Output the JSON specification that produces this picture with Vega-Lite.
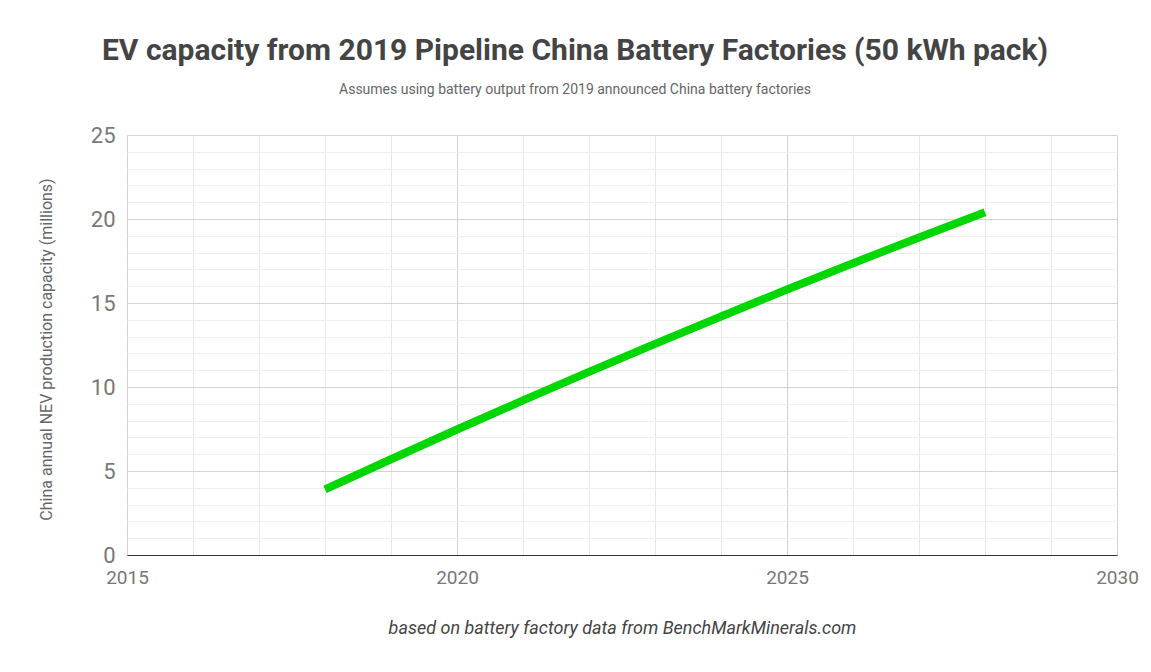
{
  "$schema": "https://vega.github.io/schema/vega-lite/v6.json",
  "width": 990,
  "height": 420,
  "autosize": "none",
  "padding": {"left": 127, "top": 135, "right": 34, "bottom": 117},
  "background": "white",
  "config": {"view": {"stroke": null}, "font": "Roboto"},
  "title": {
    "text": "EV capacity from 2019 Pipeline China Battery Factories (50 kWh pack)",
    "subtitle": "Assumes using battery output from 2019 announced China battery factories",
    "anchor": "middle",
    "dx": -47,
    "font": "Roboto",
    "fontSize": 30,
    "fontWeight": "bold",
    "color": "#444444",
    "subtitleFont": "Roboto",
    "subtitleFontSize": 14,
    "subtitleColor": "#666666",
    "subtitlePadding": 17,
    "offset": 27
  },
  "data": {
    "values": [
      {"year": 2018, "capacity": 3.9},
      {"year": 2019, "capacity": 5.7},
      {"year": 2020, "capacity": 7.47},
      {"year": 2021, "capacity": 9.2},
      {"year": 2022, "capacity": 10.9},
      {"year": 2023, "capacity": 12.57},
      {"year": 2024, "capacity": 14.2},
      {"year": 2025, "capacity": 15.8},
      {"year": 2026, "capacity": 17.37},
      {"year": 2027, "capacity": 18.9},
      {"year": 2028, "capacity": 20.4}
    ]
  },
  "mark": {"type": "line", "color": "#00d600", "strokeWidth": 8, "strokeCap": "butt"},
  "encoding": {
    "x": {
      "field": "year",
      "type": "quantitative",
      "scale": {"domain": [2015, 2030], "nice": false, "zero": false},
      "axis": {
        "values": [2015, 2016, 2017, 2018, 2019, 2020, 2021, 2022, 2023, 2024, 2025, 2026, 2027, 2028, 2029, 2030],
        "format": "d",
        "labelExpr": "datum.value % 5 === 0 ? datum.label : ''",
        "labelFont": "Roboto",
        "labelFontSize": 19,
        "labelColor": "#777777",
        "labelPadding": 13,
        "labelFlush": false,
        "ticks": false,
        "domain": true,
        "domainColor": "#333333",
        "domainWidth": 1,
        "grid": true,
        "gridColor": {"condition": {"test": "datum.value % 5 === 0", "value": "#d2d2d2"}, "value": "#e6e6e6"},
        "gridWidth": 1,
        "title": "based on battery factory data from BenchMarkMinerals.com",
        "titleFont": "Roboto",
        "titleFontSize": 18,
        "titleFontStyle": "italic",
        "titleFontWeight": "normal",
        "titleColor": "#444444",
        "titlePadding": 32
      }
    },
    "y": {
      "field": "capacity",
      "type": "quantitative",
      "scale": {"domain": [0, 25], "nice": false},
      "axis": {
        "values": [0, 1, 2, 3, 4, 5, 6, 7, 8, 9, 10, 11, 12, 13, 14, 15, 16, 17, 18, 19, 20, 21, 22, 23, 24, 25],
        "labelExpr": "datum.value % 5 === 0 ? datum.label : ''",
        "labelFont": "Roboto",
        "labelFontSize": 22,
        "labelColor": "#777777",
        "labelPadding": 12,
        "labelFlush": false,
        "ticks": false,
        "domain": false,
        "grid": true,
        "gridColor": {"condition": {"test": "datum.value % 5 === 0", "value": "#d2d2d2"}, "value": "#efefef"},
        "gridWidth": 1,
        "title": "China annual NEV production capacity (millions)",
        "titleFont": "Roboto",
        "titleFontSize": 16,
        "titleFontWeight": "normal",
        "titleColor": "#666666",
        "titlePadding": 36,
        "titleY": 214
      }
    }
  }
}
